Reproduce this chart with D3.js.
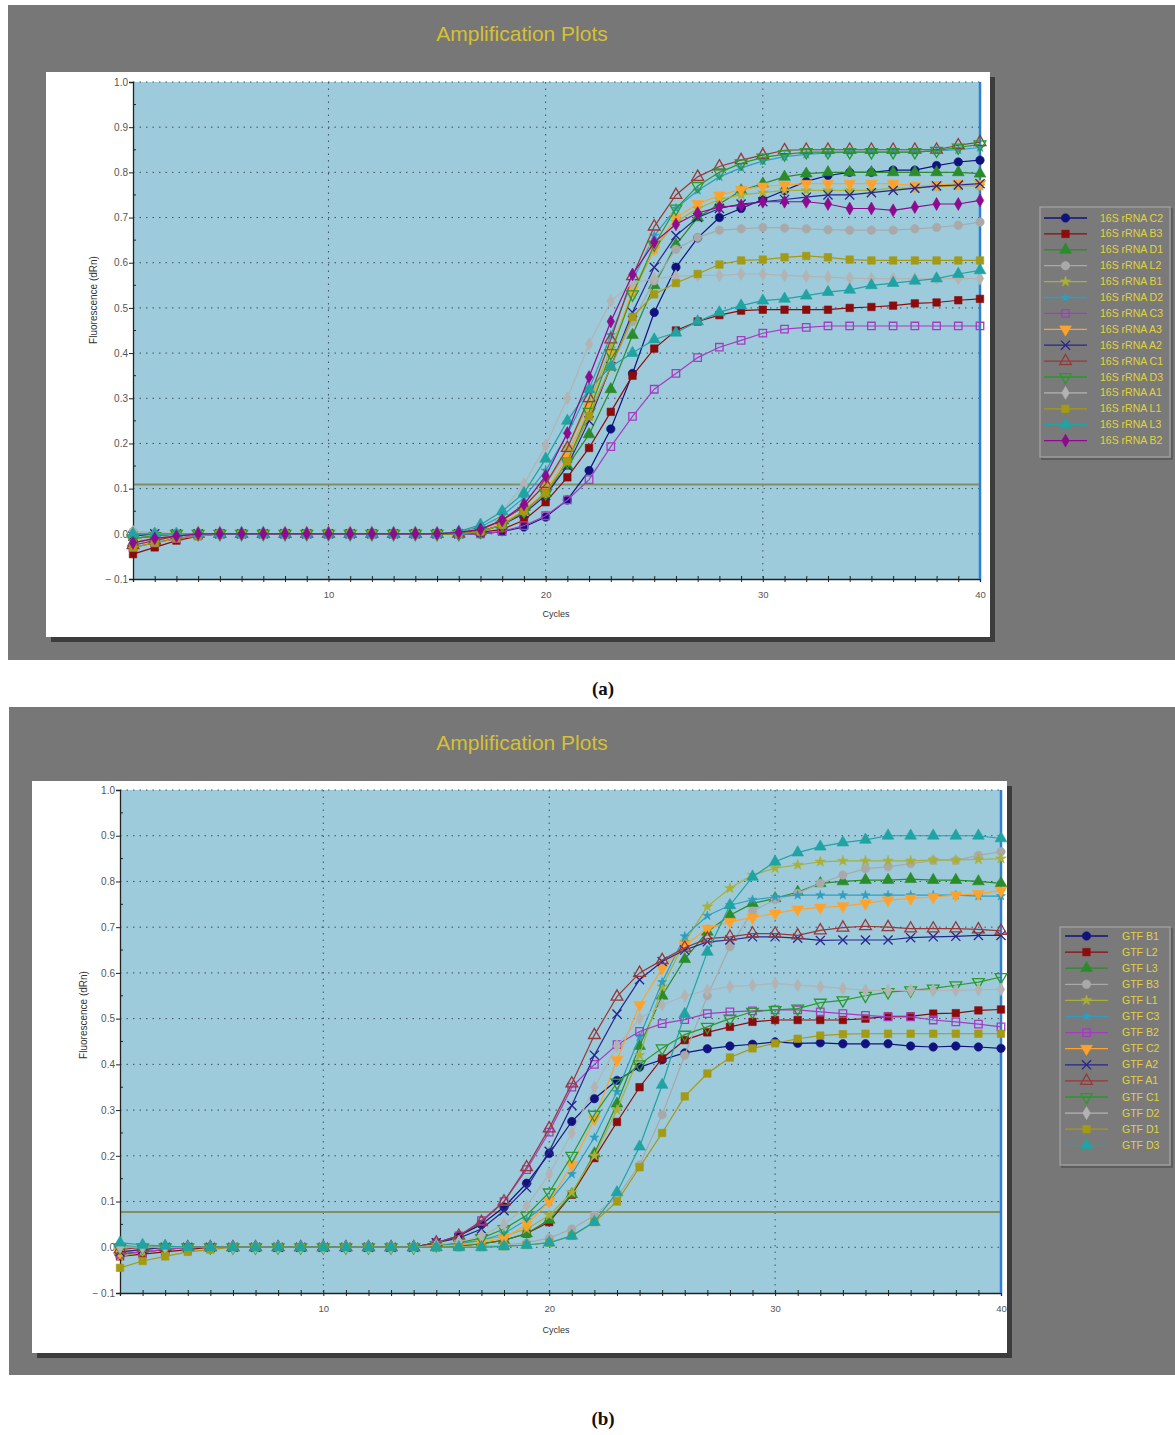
<!DOCTYPE html>
<html>
<head>
<meta charset="utf-8">
<script src="https://cdn.jsdelivr.net/npm/d3@7"></script>
<style>
  body { margin: 0; background: #fff; }
  svg { display: block; font-family: "Liberation Sans", Arial, sans-serif; }
</style>
</head>
<body>
<svg id="chart" width="1175" height="1435"></svg>
<script>
const cycles = d3.range(1, 41);

// ---- panel (a): 16S rRNA ----
const namesA = ["16S rRNA C2", "16S rRNA B3", "16S rRNA D1", "16S rRNA L2", "16S rRNA B1",
  "16S rRNA D2", "16S rRNA C3", "16S rRNA A3", "16S rRNA A2", "16S rRNA C1",
  "16S rRNA D3", "16S rRNA A1", "16S rRNA L1", "16S rRNA L3", "16S rRNA B2"];

const a_C2 = [-0.01,-0.005,0,0,0,0,0,0,0,0,0,0,0,0,0,0,
  0.0,0.005,0.015,0.037,0.075,0.14,0.232,0.355,0.49,0.59,0.655,0.70,0.72,0.74,0.76,0.78,0.793,0.80,0.80,0.805,0.805,0.815,0.823,0.827];
const a_B3 = [-0.045,-0.03,-0.015,-0.005,0,0,0,0,0,0,0,0,0,0,0,0,
  0.003,0.01,0.03,0.07,0.125,0.19,0.27,0.35,0.41,0.45,0.47,0.484,0.494,0.496,0.496,0.496,0.496,0.50,0.502,0.505,0.51,0.512,0.517,0.52];
const a_D1 = [-0.02,-0.01,-0.005,0,0,0,0,0,0,0,0,0,0,0,0,0.002,
  0.005,0.02,0.05,0.09,0.15,0.22,0.32,0.44,0.55,0.64,0.70,0.73,0.76,0.775,0.79,0.797,0.80,0.80,0.80,0.80,0.80,0.80,0.80,0.797];
const a_L2 = [0.005,0.003,0,0,0,0,0,0,0,0,0,0,0,0,0,0.003,
  0.01,0.03,0.06,0.11,0.18,0.27,0.37,0.47,0.56,0.63,0.656,0.672,0.675,0.678,0.677,0.675,0.673,0.672,0.672,0.672,0.675,0.678,0.683,0.69];
const a_B1 = [-0.01,-0.005,0,0,0,0,0,0,0,0,0,0,0,0,0,0.002,
  0.01,0.03,0.06,0.11,0.19,0.29,0.41,0.53,0.63,0.69,0.72,0.74,0.75,0.755,0.76,0.76,0.76,0.76,0.76,0.765,0.765,0.768,0.77,0.77];
const a_D2 = [0,0,0,0,0,0,0,0,0,0,0,0,0,0,0,0.005,
  0.015,0.04,0.08,0.14,0.22,0.32,0.44,0.56,0.66,0.72,0.76,0.79,0.81,0.825,0.835,0.84,0.843,0.845,0.845,0.845,0.845,0.848,0.85,0.855];
const a_C3 = [-0.03,-0.02,-0.01,-0.003,0,0,0,0,0,0,0,0,0,0,0,0,
  0.0,0.005,0.018,0.04,0.075,0.12,0.193,0.26,0.32,0.355,0.39,0.413,0.428,0.444,0.453,0.457,0.46,0.46,0.46,0.46,0.46,0.46,0.46,0.46];
const a_A3 = [-0.015,-0.01,-0.005,0,0,0,0,0,0,0,0,0,0,0,0,0,
  0.01,0.025,0.05,0.095,0.17,0.28,0.40,0.54,0.63,0.70,0.73,0.749,0.762,0.769,0.772,0.775,0.775,0.775,0.775,0.775,0.77,0.772,0.775,0.775];
const a_A2 = [-0.005,0,0,0,0,0,0,0,0,0,0,0,0,0,0,0,
  0.005,0.02,0.045,0.085,0.15,0.25,0.37,0.49,0.59,0.66,0.70,0.72,0.73,0.735,0.74,0.745,0.75,0.75,0.755,0.76,0.765,0.77,0.772,0.775];
const a_C1 = [-0.025,-0.015,-0.005,0,0,0,0,0,0,0,0,0,0,0,0,0,
  0.01,0.03,0.06,0.11,0.19,0.30,0.43,0.57,0.68,0.75,0.79,0.813,0.827,0.838,0.849,0.85,0.85,0.85,0.85,0.85,0.85,0.85,0.86,0.867];
const a_D3 = [-0.01,-0.005,0,0,0,0,0,0,0,0,0,0,0,0,0,0,
  0.005,0.02,0.05,0.09,0.16,0.27,0.40,0.53,0.64,0.72,0.77,0.80,0.82,0.833,0.84,0.845,0.845,0.845,0.845,0.845,0.845,0.848,0.855,0.862];
const a_A1 = [0.005,0,0,0,0,0,0,0,0,0,0,0,0,0,0,0.005,
  0.02,0.05,0.11,0.195,0.30,0.42,0.515,0.555,0.565,0.57,0.572,0.572,0.575,0.575,0.572,0.57,0.568,0.566,0.565,0.565,0.565,0.565,0.565,0.565];
const a_L1 = [-0.03,-0.02,-0.01,-0.005,0,0,0,0,0,0,0,0,0,0,0,0,
  0.005,0.02,0.05,0.09,0.16,0.26,0.37,0.48,0.53,0.555,0.575,0.596,0.605,0.607,0.612,0.615,0.612,0.607,0.605,0.605,0.605,0.605,0.605,0.605];
const a_L3 = [0,0,0,0,0,0,0,0,0,0,0,0,0,0,0,0.005,
  0.02,0.05,0.09,0.166,0.25,0.32,0.37,0.40,0.43,0.445,0.47,0.49,0.505,0.516,0.52,0.527,0.535,0.54,0.55,0.555,0.56,0.565,0.575,0.583];
const a_B2 = [-0.02,-0.01,-0.005,0,0,0,0,0,0,0,0,0,0,0,0,0.003,
  0.01,0.03,0.065,0.128,0.223,0.347,0.47,0.574,0.645,0.685,0.71,0.723,0.727,0.735,0.735,0.735,0.73,0.72,0.72,0.716,0.723,0.73,0.73,0.738];
const seriesA = [a_C2, a_B3, a_D1, a_L2, a_B1, a_D2, a_C3, a_A3, a_A2, a_C1, a_D3, a_A1, a_L1, a_L3, a_B2];
const thresholdA = 0.109;

// ---- panel (b): GTF ----
const namesB = ["GTF B1", "GTF L2", "GTF L3", "GTF B3", "GTF L1", "GTF C3", "GTF B2",
  "GTF C2", "GTF A2", "GTF A1", "GTF C1", "GTF D2", "GTF D1", "GTF D3"];

const b_B1 = [-0.015,-0.01,-0.005,0,0,0,0,0,0,0,0,0,0,0,
  0.01,0.025,0.05,0.088,0.14,0.205,0.275,0.325,0.365,0.394,0.41,0.425,0.434,0.44,0.444,0.449,0.446,0.447,0.445,0.445,0.445,0.44,0.438,0.44,0.438,0.435];
const b_L2 = [-0.02,-0.015,-0.01,-0.005,0,0,0,0,0,0,0,0,0,0,
  0.0,0.003,0.008,0.015,0.03,0.055,0.115,0.195,0.274,0.35,0.413,0.453,0.47,0.482,0.493,0.497,0.497,0.497,0.497,0.50,0.505,0.505,0.511,0.512,0.518,0.52];
const b_L3 = [-0.01,-0.005,0,0,0,0,0,0,0,0,0,0,0,0,
  0,0.003,0.008,0.015,0.03,0.06,0.116,0.205,0.314,0.44,0.55,0.63,0.69,0.726,0.752,0.763,0.777,0.796,0.80,0.803,0.803,0.805,0.803,0.803,0.80,0.796];
const b_B3 = [0,0,0,0,0,0,0,0,0,0,0,0,0,0,
  0,0,0.002,0.005,0.01,0.02,0.04,0.07,0.11,0.18,0.29,0.42,0.55,0.657,0.735,0.76,0.774,0.796,0.814,0.828,0.832,0.839,0.846,0.846,0.857,0.865];
const b_L1 = [-0.02,-0.01,-0.005,0,0,0,0,0,0,0,0,0,0,0,
  0.003,0.008,0.015,0.025,0.04,0.07,0.12,0.2,0.3,0.42,0.57,0.668,0.745,0.785,0.814,0.829,0.836,0.843,0.845,0.845,0.845,0.845,0.847,0.847,0.848,0.85];
const b_C3 = [0.005,0,0,0,0,0,0,0,0,0,0,0,0,0,
  0.003,0.008,0.015,0.03,0.06,0.1,0.16,0.24,0.34,0.46,0.58,0.68,0.725,0.748,0.76,0.766,0.77,0.77,0.77,0.77,0.77,0.77,0.77,0.77,0.768,0.768];
const b_B2 = [-0.015,-0.01,-0.005,0,0,0,0,0,0,0,0,0,0,0,
  0.01,0.025,0.058,0.1,0.17,0.252,0.35,0.40,0.443,0.472,0.489,0.498,0.511,0.515,0.517,0.519,0.519,0.515,0.511,0.507,0.504,0.504,0.497,0.493,0.488,0.482];
const b_C2 = [-0.01,-0.005,0,0,0,0,0,0,0,0,0,0,0,0,
  0.002,0.005,0.01,0.02,0.05,0.1,0.18,0.28,0.41,0.53,0.61,0.66,0.697,0.712,0.721,0.73,0.739,0.743,0.746,0.752,0.759,0.763,0.766,0.77,0.773,0.78];
const b_A2 = [-0.01,-0.005,0,0,0,0,0,0,0,0,0,0,0,0,
  0.01,0.02,0.04,0.08,0.13,0.21,0.31,0.42,0.51,0.585,0.625,0.65,0.668,0.672,0.679,0.679,0.676,0.671,0.672,0.672,0.672,0.677,0.679,0.68,0.682,0.682];
const b_A1 = [-0.005,0,0,0,0,0,0,0,0,0,0,0,0,0,
  0.01,0.025,0.055,0.1,0.175,0.26,0.358,0.464,0.548,0.60,0.628,0.655,0.675,0.679,0.686,0.686,0.682,0.693,0.699,0.702,0.70,0.697,0.697,0.697,0.695,0.692];
const b_C1 = [0,0,0,0,0,0,0,0,0,0,0,0,0,0,
  0.005,0.01,0.02,0.04,0.07,0.12,0.2,0.29,0.36,0.40,0.435,0.465,0.482,0.50,0.515,0.519,0.522,0.535,0.54,0.55,0.558,0.562,0.566,0.573,0.58,0.591];
const b_D2 = [0,0,0,0,0,0,0,0,0,0,0,0,0,0,
  0.005,0.012,0.025,0.05,0.09,0.16,0.25,0.35,0.44,0.50,0.53,0.55,0.562,0.57,0.573,0.577,0.573,0.57,0.566,0.562,0.562,0.562,0.562,0.562,0.563,0.564];
const b_D1 = [-0.045,-0.03,-0.02,-0.01,-0.005,0,0,0,0,0,0,0,0,0,
  0,0,0,0.002,0.005,0.01,0.025,0.055,0.10,0.175,0.25,0.33,0.38,0.415,0.435,0.446,0.456,0.463,0.466,0.467,0.467,0.467,0.467,0.467,0.467,0.467];
const b_D3 = [0.01,0.005,0.003,0,0,0,0,0,0,0,0,0,0,0,
  0,0,0,0.002,0.005,0.01,0.025,0.055,0.12,0.22,0.355,0.51,0.646,0.748,0.81,0.843,0.863,0.876,0.885,0.891,0.90,0.90,0.90,0.90,0.90,0.894];
const seriesB = [b_B1, b_L2, b_L3, b_B3, b_L1, b_C3, b_B2, b_C2, b_A2, b_A1, b_C1, b_D2, b_D1, b_D3];
const thresholdB = 0.077;

// axes
const yTicks = [-0.1, 0, 0.1, 0.2, 0.3, 0.4, 0.5, 0.6, 0.7, 0.8, 0.9, 1.0];
const yTickLabels = ["\u2212 0.1", "0.0", "0.1", "0.2", "0.3", "0.4", "0.5", "0.6", "0.7", "0.8", "0.9", "1.0"];
const yMinor = [-0.05, 0.05, 0.15, 0.25, 0.35, 0.45, 0.55, 0.65, 0.75, 0.85, 0.95];
const xTickLabels = [10, 20, 30, 40];
const xGrid = [10, 20, 30];

// marker style per legend slot (same order in both exports)
const styles = [
  { color: '#12127e', shape: 'circle', open: false },
  { color: '#8c0c0c', shape: 'square', open: false },
  { color: '#2a8c2a', shape: 'triangle', open: false },
  { color: '#a9a9a9', shape: 'circle', open: false },
  { color: '#a8b038', shape: 'star', open: false, size: 34 },
  { color: '#2e9ec0', shape: 'star', open: false, size: 26 },
  { color: '#a53cc0', shape: 'square', open: true },
  { color: '#ffa22c', shape: 'tridown', open: false },
  { color: '#26268c', shape: 'times', open: true },
  { color: '#983838', shape: 'triangle', open: true },
  { color: '#2a9a2a', shape: 'tridown', open: true },
  { color: '#b3b3b3', shape: 'diamond', open: false },
  { color: '#a49a14', shape: 'square', open: false },
  { color: '#1fa3a3', shape: 'triangle', open: false },
  { color: '#8e0a8e', shape: 'diamond', open: false },
];

const svg = d3.select('#chart');
const PLOT_BG = '#9dcbdc';

function symbolPath(st) {
  const types = {
    circle: d3.symbolCircle, square: d3.symbolSquare, triangle: d3.symbolTriangle,
    tridown: d3.symbolTriangle, diamond: d3.symbolDiamond, star: d3.symbolStar,
    times: d3.symbolTimes || d3.symbolCross,
  };
  const size = st.size || (st.shape.startsWith('tri') ? 60 : st.shape === 'diamond' ? 48 : 56);
  return d3.symbol(types[st.shape], size)();
}

function drawMarker(g, st, x, y) {
  let rot = st.shape === 'tridown' ? 180 : 0;
  if (st.shape === 'times' && !d3.symbolTimes) rot = 45;
  g.append('path')
    .attr('d', symbolPath(st))
    .attr('transform', `translate(${x},${y}) rotate(${rot})`)
    .attr('fill', st.open ? 'none' : st.color)
    .attr('stroke', st.color)
    .attr('stroke-width', st.open ? 1.3 : 0.6);
}

function drawPanel(cfg) {
  const g = svg.append('g');

  // grey frame + white card with shadow
  g.append('rect').attr('x', cfg.bg[0]).attr('y', cfg.bg[1]).attr('width', cfg.bg[2]).attr('height', cfg.bg[3]).attr('fill', '#777777');
  g.append('rect').attr('x', cfg.card[0] + 5).attr('y', cfg.card[1] + 5).attr('width', cfg.card[2]).attr('height', cfg.card[3]).attr('fill', '#3c3c3c');
  g.append('rect').attr('x', cfg.card[0]).attr('y', cfg.card[1]).attr('width', cfg.card[2]).attr('height', cfg.card[3]).attr('fill', '#ffffff');

  g.append('text')
    .attr('x', cfg.titleX).attr('y', cfg.titleY)
    .attr('text-anchor', 'middle')
    .style('font-size', '21px')
    .style('fill', '#d6c033')
    .text('Amplification Plots');

  const x = d3.scaleLinear().domain([1, 40]).range([cfg.left, cfg.right]);
  const y = d3.scaleLinear().domain([-0.1, 1.0]).range([cfg.bottom, cfg.top]);

  g.append('rect')
    .attr('x', cfg.left).attr('y', cfg.top)
    .attr('width', cfg.right - cfg.left).attr('height', cfg.bottom - cfg.top)
    .attr('fill', PLOT_BG);

  // dotted grid
  g.selectAll('.hgrid').data(yTicks.filter(v => v > -0.1)).join('line')
    .attr('x1', cfg.left).attr('x2', cfg.right)
    .attr('y1', d => y(d)).attr('y2', d => y(d))
    .attr('stroke', '#3f4f5a').attr('stroke-width', 1).attr('stroke-dasharray', '1.5,5');
  g.selectAll('.vgrid').data(xGrid).join('line')
    .attr('x1', d => x(d)).attr('x2', d => x(d))
    .attr('y1', cfg.top).attr('y2', cfg.bottom)
    .attr('stroke', '#3f4f5a').attr('stroke-width', 1).attr('stroke-dasharray', '1.5,5');

  // threshold
  g.append('line')
    .attr('x1', cfg.left).attr('x2', cfg.right)
    .attr('y1', y(cfg.threshold)).attr('y2', y(cfg.threshold))
    .attr('stroke', '#858e62').attr('stroke-width', 2);

  // axes
  const yAxis = d3.axisLeft(y).tickValues(yTicks).tickSize(4)
    .tickFormat((d, i) => yTickLabels[i]);
  const ya = g.append('g').attr('transform', `translate(${cfg.left},0)`).call(yAxis);
  ya.select('.domain').attr('stroke', '#222').attr('stroke-width', 1.3);
  ya.selectAll('.tick line').attr('stroke', '#222');
  ya.selectAll('.tick text').style('font-size', '10px').style('fill', '#555').attr('x', -5);
  g.selectAll('.yminor').data(yMinor).join('line')
    .attr('x1', cfg.left).attr('x2', cfg.left + 3)
    .attr('y1', d => y(d)).attr('y2', d => y(d))
    .attr('stroke', '#222');

  const xAxis = d3.axisBottom(x).tickValues(cycles).tickSize(3)
    .tickFormat(d => xTickLabels.includes(d) ? d : '');
  const xa = g.append('g').attr('transform', `translate(0,${cfg.bottom})`).call(xAxis);
  xa.select('.domain').attr('stroke', '#222').attr('stroke-width', 1.3);
  xa.selectAll('.tick line').attr('stroke', '#222').attr('y1', -3);
  xa.selectAll('.tick text').style('font-size', '9.5px').style('fill', '#555').attr('y', 12);

  // right boundary (cycle 40)
  g.append('line')
    .attr('x1', cfg.right).attr('x2', cfg.right)
    .attr('y1', cfg.top).attr('y2', cfg.bottom)
    .attr('stroke', '#2f80d4').attr('stroke-width', 2.5);

  // axis titles
  g.append('text')
    .attr('transform', `translate(${cfg.ylabX},${cfg.ylabY}) rotate(-90)`)
    .attr('text-anchor', 'middle')
    .style('font-size', '10px').style('fill', '#333')
    .text('Fluorescence (dRn)');
  g.append('text')
    .attr('x', cfg.xlabX).attr('y', cfg.xlabY)
    .attr('text-anchor', 'middle')
    .style('font-size', '9px').style('fill', '#333')
    .text('Cycles');

  // curves
  const line = d3.line().x((d, i) => x(cycles[i])).y(d => y(d));
  cfg.series.forEach((vals, si) => {
    const st = styles[si];
    const sg = g.append('g');
    sg.append('path')
      .attr('d', line(vals))
      .attr('fill', 'none')
      .attr('stroke', st.color)
      .attr('stroke-width', 1.2);
    vals.forEach((v, i) => drawMarker(sg, st, x(cycles[i]), y(v)));
  });

  // legend
  const L = cfg.legend;
  g.append('rect')
    .attr('x', L.x + 2).attr('y', L.y + 2).attr('width', L.w).attr('height', L.h)
    .attr('fill', 'none').attr('stroke', '#555').attr('stroke-width', 1.5);
  g.append('rect')
    .attr('x', L.x).attr('y', L.y).attr('width', L.w).attr('height', L.h)
    .attr('fill', '#7a7a7a').attr('stroke', '#a4a4a4').attr('stroke-width', 1.2);
  cfg.names.forEach((name, i) => {
    const st = styles[i];
    const yy = L.row0 + i * L.step;
    g.append('line')
      .attr('x1', L.lineX0).attr('x2', L.lineX1).attr('y1', yy).attr('y2', yy)
      .attr('stroke', st.color).attr('stroke-width', 1.3);
    drawMarker(g, st, (L.lineX0 + L.lineX1) / 2, yy);
    g.append('text')
      .attr('x', L.textX).attr('y', yy + 3.5)
      .style('font-size', '10.5px').style('fill', '#e2d23e')
      .text(name);
  });

  // caption
  g.append('text')
    .attr('x', cfg.capX).attr('y', cfg.capY)
    .attr('text-anchor', 'middle')
    .style('font-family', '"Liberation Serif", "DejaVu Serif", serif')
    .style('font-weight', 'bold').style('font-size', '19px').style('fill', '#111')
    .text(cfg.caption);
}

drawPanel({
  bg: [8, 5, 1167, 655], card: [46, 72, 944, 565],
  left: 133, right: 980, top: 82, bottom: 579,
  titleX: 522, titleY: 41,
  ylabX: 97, ylabY: 300, xlabX: 556, xlabY: 617,
  threshold: thresholdA, series: seriesA, names: namesA,
  legend: { x: 1040, y: 207, w: 130, h: 250, row0: 218, step: 15.9, lineX0: 1044, lineX1: 1087, textX: 1100 },
  caption: '(a)', capX: 603, capY: 695,
});

drawPanel({
  bg: [9, 707, 1166, 668], card: [32, 781, 975, 572],
  left: 120, right: 1001, top: 790, bottom: 1293,
  titleX: 522, titleY: 750,
  ylabX: 87, ylabY: 1015, xlabX: 556, xlabY: 1333,
  threshold: thresholdB, series: seriesB, names: namesB,
  legend: { x: 1060, y: 927, w: 110, h: 238, row0: 936, step: 16.1, lineX0: 1065, lineX1: 1108, textX: 1122 },
  caption: '(b)', capX: 603, capY: 1425,
});
</script>
</body>
</html>
